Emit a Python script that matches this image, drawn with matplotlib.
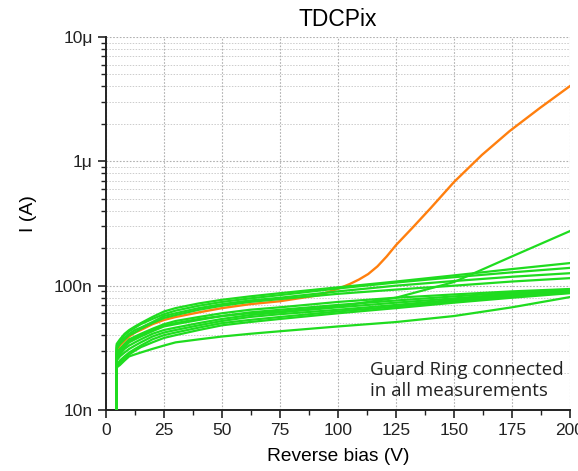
import matplotlib
matplotlib.use("Agg")
import matplotlib.pyplot as plt
from matplotlib.ticker import FixedLocator, LogLocator, NullFormatter, MultipleLocator

plt.rcParams['font.family'] = ['Liberation Sans', 'DejaVu Sans']

# Reverse bias grid (V) for green curves
bias = [4.4, 4.6, 6, 8, 10, 12.5, 15, 20, 25, 30, 40, 50, 62, 75, 100, 125, 150, 175, 200]

# Leakage current of green devices (nA)
green_curves = [
    [5, 34, 37, 41, 44, 47, 50, 56, 62, 66, 72, 77, 82, 87, 97, 108, 121, 136, 152],
    [5, 33, 36, 40, 43, 46, 49, 54, 59, 63, 69, 74, 79, 84, 95, 106, 117, 128, 139],
    [5, 32, 35, 38, 41, 44, 46, 51, 57, 60, 66, 71, 76, 80, 90, 100, 109, 118, 126],
    [5, 31, 34, 37, 40, 42, 45, 50, 55, 58, 64, 69, 74, 78, 86, 93, 100, 108, 115],
    [5, 28, 30, 33, 36, 38, 40, 44, 48, 50, 54, 57, 60, 62, 68, 80, 107, 172, 275],
    [5, 29, 31, 34, 37, 39, 41, 45, 49, 52, 56, 60, 64, 67, 74, 80, 85, 90, 94],
    [5, 27, 29, 32, 35, 37, 39, 43, 47, 49, 53, 57, 61, 64, 70, 76, 82, 88, 93],
    [5, 26, 28, 31, 33, 35, 37, 41, 44, 46, 50, 54, 58, 61, 67, 73, 79, 86, 92],
    [5, 25, 27, 29, 31, 33, 35, 39, 42, 44, 48, 52, 56, 59, 64, 70, 77, 84, 90],
    [5, 23, 25, 27, 29, 31, 33, 37, 40, 42, 46, 50, 53, 56, 62, 68, 75, 82, 88],
    [5, 22, 24, 26, 28, 30, 32, 35, 38, 40, 44, 48, 51, 54, 60, 66, 73, 80, 87],
    [5, 22, 23, 25, 27, 28, 29, 31, 33, 35, 37, 39, 41, 43, 47, 51, 57, 67, 81],
]

# Orange device (breakdown), nA
orange_bias = [4.4, 4.6, 6, 8, 10, 12.5, 15, 20, 25, 30, 40, 50, 62, 75, 92, 101, 105,
               109, 113, 117, 121, 125, 132, 140, 150, 162, 174, 187, 200]
orange_current = [5, 30, 33, 36, 39, 42, 44, 49, 53, 56, 61, 66, 71, 75, 84, 96, 103,
                  112, 124, 143, 172, 212, 291, 422, 682, 1125, 1754, 2685, 4035]

x_ticks = [0, 25, 50, 75, 100, 125, 150, 175, 200]
y_ticks = [1e-8, 1e-7, 1e-6, 1e-5]
y_tick_labels = ['10n', '100n', '1μ', '10μ']

GREEN = '#1fdc1f'
ORANGE = '#ff7f0e'

fig = plt.figure(figsize=(5.78, 4.71), dpi=100)
ax = fig.add_axes([0.1834, 0.1295, 0.8028, 0.7919])

ax.plot(orange_bias, [v * 1e-9 for v in orange_current], color=ORANGE, lw=1.7, zorder=2)
for c in green_curves:
    ax.plot(bias, [v * 1e-9 for v in c], color=GREEN, lw=1.6, zorder=3)

ax.set_yscale('log')
ax.set_xlim(0, 200)
ax.set_ylim(1e-8, 1e-5)

ax.xaxis.set_major_locator(FixedLocator(x_ticks))
ax.xaxis.set_minor_locator(MultipleLocator(12.5))
ax.set_xticklabels([str(t) for t in x_ticks])
ax.yaxis.set_major_locator(FixedLocator(y_ticks))
ax.set_yticklabels(y_tick_labels)
ax.yaxis.set_minor_locator(LogLocator(base=10, subs=range(2, 10)))
ax.yaxis.set_minor_formatter(NullFormatter())

ax.tick_params(which='major', direction='out', length=6, width=1.2, labelsize=12.5, colors='#222222')
ax.tick_params(which='minor', direction='out', length=3.5, width=1.0, colors='#222222')

ax.grid(True, which='major', axis='both', color='#b0b0b0', ls=(0, (1.5, 1.5)), lw=0.8)
ax.grid(True, which='minor', axis='y', color='#cccccc', ls=(0, (1.5, 1.5)), lw=0.7)
ax.set_axisbelow(True)

for s in ['top', 'right']:
    ax.spines[s].set_visible(False)
for s in ['left', 'bottom']:
    ax.spines[s].set_linewidth(1.4)
    ax.spines[s].set_color('#222222')

ax.set_title('TDCPix', fontsize=16.5, pad=8)
ax.set_xlabel('Reverse bias (V)', fontsize=13.8, labelpad=7)
ax.set_ylabel('I (A)', fontsize=14)
ax.yaxis.set_label_coords(-0.149, 0.527)

ax.text(0.568, 0.08, 'Guard Ring connected\nin all measurements', transform=ax.transAxes,
        fontsize=13.5, family=['Open Sans', 'DejaVu Sans'], color='#222222', linespacing=1.22,
        ha='left', va='center')

fig.savefig('out.png', dpi=100)
